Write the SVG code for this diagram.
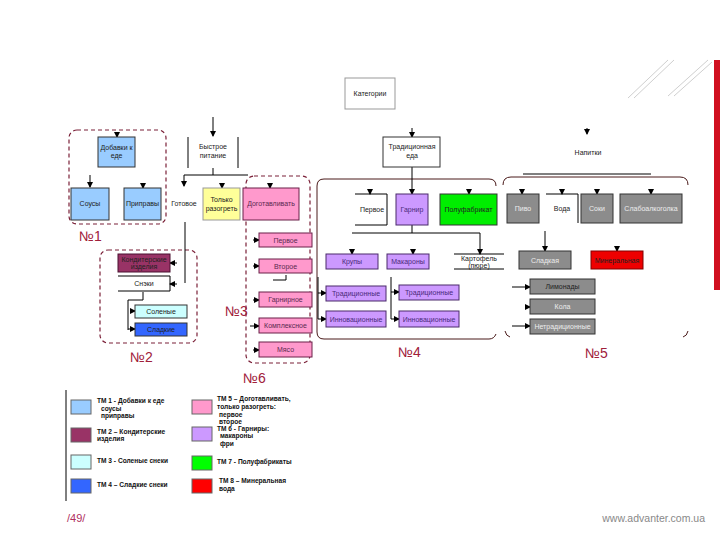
<svg xmlns="http://www.w3.org/2000/svg" width="720" height="540" viewBox="0 0 720 540">
<style>
text{font-family:"Liberation Sans",Arial,sans-serif;}
.t{font-size:7px;text-anchor:middle;fill:#222;}
.box{stroke:#333;stroke-width:1;}
.blue{fill:#99ccff;}
.yel{fill:#ffff99;}
.pink{fill:#ff99cc;stroke:#6a2048;}
.pur{fill:#cc99ff;stroke:#4a2a6a;}
.grn{fill:#00ee00;}
.gry{fill:#8c8c8c;}
.red{fill:#ee0000;stroke:#800000;}
.mar{fill:#993366;stroke:#4a1030;}
.cyan{fill:#ccffff;}
.dblue{fill:#3366ff;}
.wt{fill:#ffffff;}
.line{stroke:#000;stroke-width:1;fill:none;}
.dash{fill:none;stroke:#7b2038;stroke-width:1.2;stroke-dasharray:4 3;}
.grp{fill:none;stroke:#4a1a1a;stroke-width:1;}
.num{font-size:14px;fill:#a0203a;}
.lg{font-size:6.6px;font-weight:bold;fill:#111;}
.tw{fill:#ececec;}
.tp{fill:#5a2a50;}
.tu{fill:#4a2a7a;}
</style>
<defs>
<marker id="ah" markerWidth="6" markerHeight="6" refX="5" refY="3" orient="auto" markerUnits="userSpaceOnUse">
<path d="M0,0 L6,3 L0,6 z" fill="#000"/>
</marker>
</defs>
<rect width="720" height="540" fill="#fff"/>
<!-- decoration -->
<g id="decor">
<rect x="714" y="60" width="6" height="230" fill="#d01020"/>
<g stroke="#cfcfcf" stroke-width="1">
<line x1="628" y1="98" x2="668" y2="60"/>
<line x1="634" y1="98" x2="674" y2="60"/>
<line x1="668" y1="96" x2="708" y2="60"/>
<line x1="674" y1="96" x2="712" y2="62"/>
</g>
</g>
<!-- group outlines -->
<g id="groups">
<rect class="dash" x="69" y="130" width="97" height="94" rx="8"/>
<rect class="dash" x="100" y="250" width="97" height="93" rx="8"/>
<rect class="dash" x="246" y="176" width="64" height="187" rx="8"/>
<path class="grp" d="M496,186 Q496,179 489,179 H324 Q317,179 317,186 V332 Q317,339 324,339 H489 Q494,339 496,334"/>
<path class="grp" d="M503,185 Q503,177 511,177 H680 Q688,177 688,185"/>
<path class="grp" d="M505,331 Q506,336 510,337 M688,331 Q687,336 683,337"/>
</g>
<!-- connectors -->
<g id="connectors">
<line class="line" x1="213" y1="117" x2="213" y2="136" marker-end="url(#ah)"/>
<line class="line" x1="213" y1="168" x2="213" y2="175"/>
<line class="line" x1="184" y1="175" x2="248" y2="175"/>
<line class="line" x1="184" y1="175" x2="184" y2="186" marker-end="url(#ah)"/>
<line class="line" x1="222" y1="183" x2="222" y2="188" marker-end="url(#ah)"/>
<line class="line" x1="270" y1="183" x2="270" y2="188" marker-end="url(#ah)"/>
<line class="line" x1="117" y1="132" x2="117" y2="137" marker-end="url(#ah)"/>
<line class="line" x1="90" y1="175" x2="90" y2="187" marker-end="url(#ah)"/>
<line class="line" x1="143" y1="183" x2="143" y2="188" marker-end="url(#ah)"/>
<line class="line" x1="185" y1="222" x2="185" y2="283"/>
<line class="line" x1="177" y1="263" x2="170" y2="263" marker-end="url(#ah)"/>
<line class="line" x1="177" y1="284" x2="170" y2="284" marker-end="url(#ah)"/>
<path class="line" d="M143,292 V300 H128 V330"/>
<line class="line" x1="130" y1="311" x2="135" y2="311" marker-end="url(#ah)"/>
<line class="line" x1="128" y1="329" x2="135" y2="329" marker-end="url(#ah)"/>
<line class="line" x1="253" y1="240" x2="259" y2="240" marker-end="url(#ah)"/>
<line class="line" x1="253" y1="266" x2="259" y2="266" marker-end="url(#ah)"/>
<path class="line" d="M273,280 H286 V275"/>
<line class="line" x1="253" y1="300" x2="259" y2="300" marker-end="url(#ah)"/>
<line class="line" x1="250" y1="326" x2="259" y2="326" marker-end="url(#ah)"/>
<line class="line" x1="253" y1="350" x2="259" y2="350" marker-end="url(#ah)"/>
<line class="line" x1="412" y1="128" x2="412" y2="137" marker-end="url(#ah)"/>
<line class="line" x1="412" y1="167" x2="412" y2="194" marker-end="url(#ah)"/>
<line class="line" x1="370" y1="189" x2="370" y2="194" marker-end="url(#ah)"/>
<line class="line" x1="469" y1="189" x2="469" y2="194" marker-end="url(#ah)"/>
<line class="line" x1="412" y1="225" x2="412" y2="233"/>
<line class="line" x1="352" y1="233" x2="480" y2="233"/>
<line class="line" x1="480" y1="233" x2="480" y2="254" marker-end="url(#ah)"/>
<line class="line" x1="352" y1="249" x2="352" y2="254" marker-end="url(#ah)"/>
<line class="line" x1="413" y1="249" x2="413" y2="254" marker-end="url(#ah)"/>
<line class="line" x1="318" y1="277" x2="318" y2="319"/>
<line class="line" x1="318" y1="293" x2="326" y2="293" marker-end="url(#ah)"/>
<line class="line" x1="318" y1="319" x2="326" y2="319" marker-end="url(#ah)"/>
<line class="line" x1="391" y1="277" x2="391" y2="319"/>
<line class="line" x1="391" y1="292" x2="399" y2="292" marker-end="url(#ah)"/>
<line class="line" x1="391" y1="319" x2="399" y2="319" marker-end="url(#ah)"/>
<line class="line" x1="587" y1="128" x2="587" y2="134" marker-end="url(#ah)"/>
<line class="line" x1="523" y1="174" x2="651" y2="174"/>
<line class="line" x1="522" y1="189" x2="522" y2="194" marker-end="url(#ah)"/>
<line class="line" x1="562" y1="189" x2="562" y2="194" marker-end="url(#ah)"/>
<line class="line" x1="597" y1="189" x2="597" y2="194" marker-end="url(#ah)"/>
<line class="line" x1="651" y1="189" x2="651" y2="194" marker-end="url(#ah)"/>
<line class="line" x1="545" y1="231" x2="545" y2="251" marker-end="url(#ah)"/>
<line class="line" x1="617" y1="246" x2="617" y2="251" marker-end="url(#ah)"/>
<line class="line" x1="512" y1="287" x2="530" y2="287" marker-end="url(#ah)"/>
<line class="line" x1="525" y1="307" x2="530" y2="307" marker-end="url(#ah)"/>
<line class="line" x1="512" y1="326" x2="530" y2="326" marker-end="url(#ah)"/>
</g>
<!-- nodes -->
<g id="n-categories"><rect x="345" y="78" width="50" height="31" fill="#fff" stroke="#999"/><text class="t" x="370" y="96">Категории</text></g>
<g id="n-fast"><path class="line" d="M188,137 V168 M238,137 V168"/><text class="t" x="213" y="149">Быстрое</text><text class="t" x="213" y="158">питание</text></g>
<g id="n-trad"><rect class="box wt" x="383" y="137" width="57" height="30"/><text class="t" x="412" y="149">Традиционная</text><text class="t" x="412" y="158">еда</text></g>
<g id="n-drinks"><text class="t" x="588" y="155">Напитки</text></g>
<g id="n-addons"><rect class="box blue" x="98" y="137" width="37" height="30"/><text class="t" x="116.5" y="150" fill="#3a4a80">Добавки к</text><text class="t" x="116.5" y="158" fill="#3a4a80">еде</text></g>
<g id="n-sauces"><rect class="box blue" x="71" y="188" width="38" height="32"/><text class="t" x="90" y="206" fill="#3a4a80">Соусы</text></g>
<g id="n-spices"><rect class="box blue" x="124" y="188" width="37" height="32"/><text class="t" x="142.5" y="206" fill="#3a4a80">Приправы</text></g>
<g id="n-ready"><text class="t" x="184" y="206">Готовое</text></g>
<g id="n-reheat"><rect class="yel" x="203" y="188" width="37" height="32" stroke="#999"/><text class="t" x="221.5" y="202" fill="#555">Только</text><text class="t" x="221.5" y="211" fill="#555">разогреть</text></g>
<g id="n-finish"><rect class="box pink" x="243" y="188" width="56" height="32"/><text class="t tp" x="271" y="206">Доготавливать</text></g>
<g id="n-first"><rect class="box pink" x="259" y="233" width="53" height="14"/><text class="t tp" x="285.5" y="242.5">Первое</text></g>
<g id="n-second"><rect class="box pink" x="259" y="259" width="53" height="14"/><text class="t tp" x="285.5" y="268.5">Второе</text></g>
<g id="n-garnish"><rect class="box pink" x="259" y="292" width="53" height="15"/><text class="t tp" x="285.5" y="302">Гарнирное</text></g>
<g id="n-complex"><rect class="box pink" x="259" y="318" width="53" height="15"/><text class="t tp" x="285.5" y="328">Комплексное</text></g>
<g id="n-meat"><rect class="box pink" x="259" y="342" width="53" height="15"/><text class="t tp" x="285.5" y="352">Мясо</text></g>
<g id="n-confect"><rect class="box mar" x="118" y="254" width="52" height="18"/><text class="t" x="144" y="261.5" fill="#e0c0d0">Кондитерские</text><text class="t" x="144" y="269" fill="#e0c0d0">изделия</text></g>
<g id="n-snacks"><path class="line" d="M118,276 H170 V291 H118"/><text class="t" x="144" y="286">Снэки</text></g>
<g id="n-salty"><rect class="box cyan" x="135" y="305" width="52" height="13"/><text class="t" x="161" y="314" fill="#506070">Соленые</text></g>
<g id="n-sweet"><rect class="box dblue" x="135" y="323" width="52" height="13"/><text class="t" x="161" y="332" fill="#102060">Сладкие</text></g>
<g id="n-tfirst"><path class="line" d="M355,194 H387 V225 H355"/><text class="t" x="372" y="212">Первое</text></g>
<g id="n-tgarnish"><rect class="box pur" x="396" y="194" width="32" height="31"/><text class="t tu" x="412" y="212">Гарнир</text></g>
<g id="n-semi"><rect class="box grn" x="440" y="194" width="57" height="31"/><text class="t" x="468.5" y="212" fill="#2a9a2a">Полуфабрикат</text></g>
<g id="n-groats"><rect class="box pur" x="326" y="254" width="52" height="15"/><text class="t tu" x="352" y="264">Крупы</text></g>
<g id="n-pasta"><rect class="box pur" x="387" y="254" width="42" height="15"/><text class="t tu" x="408" y="264">Макароны</text></g>
<g id="n-potato"><path class="line" d="M454,254 H504 M454,269 H504"/><text class="t" x="479" y="260.5">Картофель</text><text class="t" x="479" y="267.5">(пюре)</text></g>
<g id="n-trad1"><rect class="box pur" x="326" y="286" width="60" height="15"/><text class="t tu" x="356" y="296">Традиционные</text></g>
<g id="n-innov1"><rect class="box pur" x="326" y="311" width="60" height="16"/><text class="t tu" x="356" y="321.5">Инновационные</text></g>
<g id="n-trad2"><rect class="box pur" x="399" y="285" width="60" height="15"/><text class="t tu" x="429" y="295">Традиционные</text></g>
<g id="n-innov2"><rect class="box pur" x="399" y="311" width="60" height="16"/><text class="t tu" x="429" y="321.5">Инновационные</text></g>
<g id="n-beer"><rect class="box gry" x="507" y="194" width="32" height="29"/><text class="t tw" x="523" y="211">Пиво</text></g>
<g id="n-water"><path class="line" d="M546,194 H578 V223"/><text class="t" x="562" y="211">Вода</text></g>
<g id="n-juice"><rect class="box gry" x="581" y="194" width="32" height="29"/><text class="t tw" x="597" y="211">Соки</text></g>
<g id="n-lowalc"><rect class="box gry" x="620" y="194" width="62" height="29"/><text class="t tw" x="651" y="211">Слабоалкоголка</text></g>
<g id="n-sweetw"><rect class="box gry" x="519" y="251" width="52" height="18"/><text class="t tw" x="545" y="262.5">Сладкая</text></g>
<g id="n-mineral"><rect class="box red" x="591" y="251" width="52" height="18"/><text class="t" x="617" y="262.5" fill="#8b0000">Минеральная</text></g>
<g id="n-lemon"><rect class="box gry" x="530" y="279" width="65" height="15"/><text class="t" x="562.5" y="289" fill="#333">Лимонады</text></g>
<g id="n-cola"><rect class="box gry" x="530" y="299" width="65" height="15"/><text class="t tw" x="562.5" y="309">Кола</text></g>
<g id="n-nontrad"><rect class="box gry" x="530" y="319" width="65" height="15"/><text class="t tw" x="562.5" y="329">Нетрадиционные</text></g>
<!-- labels -->
<g id="labels">
<text class="num" x="79" y="241">№1</text>
<text class="num" x="130" y="362">№2</text>
<text class="num" x="225" y="316">№3</text>
<text class="num" x="398" y="357">№4</text>
<text class="num" x="585" y="358">№5</text>
<text class="num" x="243" y="383">№6</text>
</g>
<!-- legend -->
<g id="legend">
<line x1="66" y1="390" x2="66" y2="501" stroke="#000"/>
<rect x="71" y="400" width="20" height="14" fill="#99ccff" stroke="#666"/>
<rect x="71" y="428" width="20" height="14" fill="#993366" stroke="#666"/>
<rect x="71" y="455" width="20" height="14" fill="#ccffff" stroke="#666"/>
<rect x="71" y="479" width="20" height="14" fill="#3366ff" stroke="#666"/>
<rect x="192" y="400" width="20" height="14" fill="#ff99cc" stroke="#666"/>
<rect x="192" y="427" width="20" height="14" fill="#cc99ff" stroke="#666"/>
<rect x="192" y="456" width="20" height="14" fill="#00ff00" stroke="#666"/>
<rect x="192" y="479" width="20" height="14" fill="#ff0000" stroke="#666"/>
<text class="lg" x="97" y="403">ТМ 1 - Добавки к еде</text>
<text class="lg" x="101" y="411">соусы</text>
<text class="lg" x="101" y="418">приправы</text>
<text class="lg" x="97" y="434">ТМ 2 – Кондитерские</text>
<text class="lg" x="97" y="441">изделия</text>
<text class="lg" x="97" y="463">ТМ 3 - Соленые снеки</text>
<text class="lg" x="97" y="487">ТМ 4 – Сладкие снеки</text>
<text class="lg" x="217" y="401">ТМ 5 – Доготавливать,</text>
<text class="lg" x="217" y="409">только разогреть:</text>
<text class="lg" x="219" y="417">первое</text>
<text class="lg" x="219" y="424">второе</text>
<text class="lg" x="217" y="431">ТМ 6 - Гарниры:</text>
<text class="lg" x="220" y="438">макароны</text>
<text class="lg" x="220" y="446">фри</text>
<text class="lg" x="217" y="464">ТМ 7 - Полуфабрикаты</text>
<text class="lg" x="219" y="483">ТМ 8 – Минеральная</text>
<text class="lg" x="219" y="491">вода</text>
</g>
<g id="footer">
<text x="67" y="522" font-size="11" fill="#b03060">/49/</text>
<text x="705" y="522" font-size="10.5" fill="#888" text-anchor="end">www.advanter.com.ua</text>
</g>
</svg>
